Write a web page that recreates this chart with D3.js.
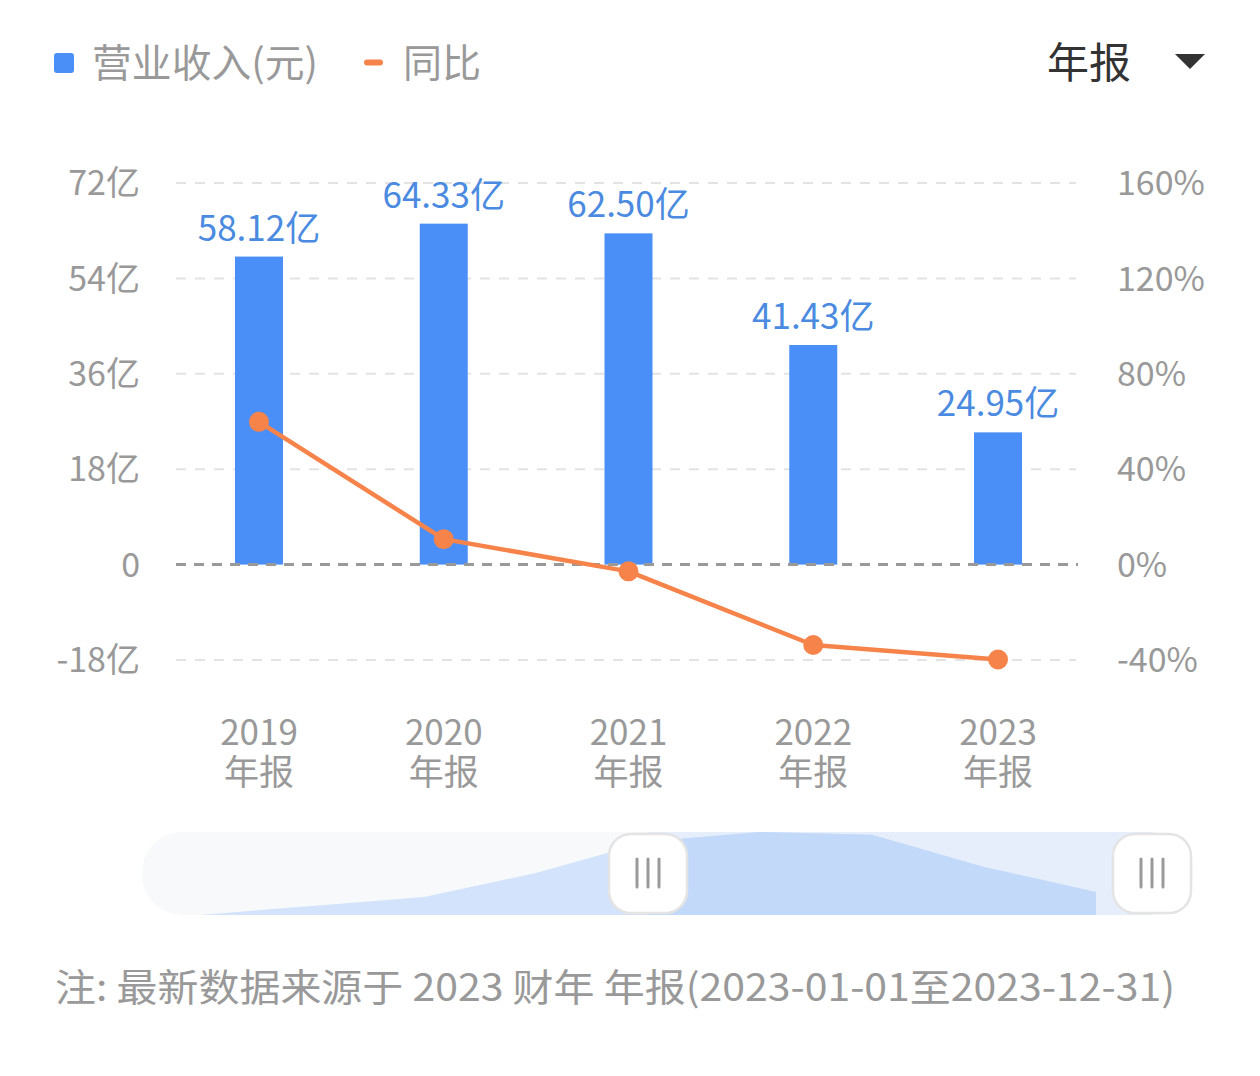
<!DOCTYPE html>
<html>
<head>
<meta charset="utf-8">
<script src="https://cdn.jsdelivr.net/npm/d3@7/dist/d3.min.js"></script>
<style>
  html, body { margin: 0; padding: 0; background: #fff; }
  svg { display: block; font-family: "Noto Sans CJK SC", "Noto Sans", sans-serif; }
</style>
</head>
<body>
<svg id="chart" width="1260" height="1076"></svg>
<script>
// ---- data ----
const categories = ["2019", "2020", "2021", "2022", "2023"];
const categorySuffix = "年报";
const revenue = [58.12, 64.33, 62.50, 41.43, 24.95];       // 亿元
const revenueLabels = ["58.12亿", "64.33亿", "62.50亿", "41.43亿", "24.95亿"];
const yoy = [59.87, 10.68, -2.84, -33.71, -39.78];          // %
const leftTicks = [-18, 0, 18, 36, 54, 72];
const leftTickLabels = ["-18亿", "0", "18亿", "36亿", "54亿", "72亿"];
const rightTicks = [-40, 0, 40, 80, 120, 160];
const rightTickLabels = ["-40%", "0%", "40%", "80%", "120%", "160%"];
const sliderYears = ["2015", "2016", "2017", "2018", "2019", "2020", "2021", "2022", "2023"];
const sliderValues = [9.9, 15.8, 21.7, 37.4, 58.12, 64.33, 62.50, 41.43, 24.95];
const legendNames = ["营业收入(元)", "同比"];
const periodLabel = "年报";
const footnote = "注: 最新数据来源于 2023 财年 年报(2023-01-01至2023-12-31)";

// ---- setup ----
const svg = d3.select("#chart");
const barColor = "#4a8ff7";
const labelColor = "#4a8ae0";
const lineColor = "#f6844a";
const axisText = "#999";

const x = d3.scaleBand().domain(categories).range([166.6, 1090.4]);
const cx = d => x(d) + x.bandwidth() / 2;
const yL = d3.scaleLinear().domain([-18, 72]).range([660, 183]);
const yR = d3.scaleLinear().domain([-40, 160]).range([660, 183]);
const gridX0 = 176, gridX1 = 1076;

// ---- legend ----
svg.append("rect").attr("x", 54).attr("y", 53).attr("width", 20).attr("height", 20)
  .attr("rx", 3).attr("fill", barColor);
svg.append("text").attr("x", 92).attr("y", 63).attr("dy", "0.36em")
  .attr("font-size", 39).attr("fill", axisText)
  .attr("textLength", 226).attr("lengthAdjust", "spacingAndGlyphs")
  .text(legendNames[0]);
svg.append("rect").attr("x", 364).attr("y", 59.5).attr("width", 19).attr("height", 6)
  .attr("rx", 3).attr("fill", lineColor);
svg.append("text").attr("x", 403).attr("y", 63).attr("dy", "0.36em")
  .attr("font-size", 39).attr("fill", axisText).text(legendNames[1]);

// period selector
svg.append("text").attr("x", 1047).attr("y", 63).attr("dy", "0.36em")
  .attr("font-size", 42).attr("fill", "#333").text(periodLabel);
svg.append("path").attr("d", "M1175,54 L1205,54 L1190,69 Z").attr("fill", "#333");

// ---- grid ----
const gridG = svg.append("g");
gridG.selectAll("line").data(leftTicks.filter(t => t !== 0)).join("line")
  .attr("x1", gridX0).attr("x2", gridX1)
  .attr("y1", d => yL(d)).attr("y2", d => yL(d))
  .attr("stroke", "#e3e3e3").attr("stroke-width", 2).attr("stroke-dasharray", "10,9");

// ---- axes labels ----
svg.append("g").selectAll("text").data(leftTicks).join("text")
  .attr("x", 140).attr("y", d => yL(d)).attr("dy", "0.36em")
  .attr("text-anchor", "end").attr("font-size", 34).attr("fill", axisText)
  .text((d, i) => leftTickLabels[i]);
svg.append("g").selectAll("text").data(rightTicks).join("text")
  .attr("x", 1117).attr("y", d => yR(d)).attr("dy", "0.36em")
  .attr("text-anchor", "start").attr("font-size", 34).attr("fill", axisText)
  .text((d, i) => rightTickLabels[i]);

const xl = svg.append("g").selectAll("text").data(categories).join("text")
  .attr("x", d => cx(d)).attr("text-anchor", "middle")
  .attr("font-size", 35).attr("fill", axisText);
xl.append("tspan").attr("x", d => cx(d)).attr("y", 745).text(d => d);
xl.append("tspan").attr("x", d => cx(d)).attr("y", 785).text(categorySuffix);

// ---- bars ----
const barW = 48;
svg.append("g").selectAll("rect").data(revenue).join("rect")
  .attr("x", (d, i) => cx(categories[i]) - barW / 2)
  .attr("y", d => yL(d))
  .attr("width", barW)
  .attr("height", d => yL(0) - yL(d))
  .attr("fill", barColor);

svg.append("g").selectAll("text").data(revenue).join("text")
  .attr("x", (d, i) => cx(categories[i]))
  .attr("y", d => yL(d) - 16)
  .attr("text-anchor", "middle").attr("font-size", 35).attr("fill", labelColor)
  .text((d, i) => revenueLabels[i]);

// zero line on top of bars
svg.append("line").attr("x1", gridX0).attr("x2", gridX1 + 2)
  .attr("y1", yL(0)).attr("y2", yL(0))
  .attr("stroke", "#999").attr("stroke-width", 3).attr("stroke-dasharray", "10,8");

// ---- yoy line ----
const line = d3.line().x((d, i) => cx(categories[i])).y(d => yR(d));
svg.append("path").datum(yoy).attr("d", line)
  .attr("fill", "none").attr("stroke", lineColor).attr("stroke-width", 4.5)
  .attr("stroke-linejoin", "round");
svg.append("g").selectAll("circle").data(yoy).join("circle")
  .attr("cx", (d, i) => cx(categories[i])).attr("cy", d => yR(d))
  .attr("r", 10).attr("fill", lineColor);

// ---- data zoom slider ----
const sTop = 832, sBot = 915, sL = 142, sR = 1193;
const sx = d3.scalePoint().domain(sliderYears).range([200, 1096]);
const sy = d3.scaleLinear().domain([9.87, 64.33]).range([sBot, sTop]);
const winL = 648, winR = 1152;

const defs = svg.append("defs");
defs.append("clipPath").attr("id", "sclip").append("rect")
  .attr("x", sL).attr("y", sTop).attr("width", sR - sL).attr("height", sBot - sTop).attr("rx", 40);
defs.append("clipPath").attr("id", "winclip").append("rect")
  .attr("x", winL).attr("y", sTop).attr("width", winR - winL).attr("height", sBot - sTop);

const sg = svg.append("g").attr("clip-path", "url(#sclip)");
sg.append("rect").attr("x", sL).attr("y", sTop).attr("width", sR - sL).attr("height", sBot - sTop)
  .attr("fill", "#f8f9fa");
sg.append("rect").attr("x", winL).attr("y", sTop).attr("width", winR - winL).attr("height", sBot - sTop)
  .attr("fill", "#e6eefc");
const area = d3.area().x(d => sx(d.k)).y0(sBot).y1(d => sy(d.v));
const sdata = sliderYears.map((k, i) => ({ k, v: sliderValues[i] }));
sg.append("path").datum(sdata).attr("d", area).attr("fill", "#d3e3fb");
sg.append("g").attr("clip-path", "url(#winclip)")
  .append("path").datum(sdata).attr("d", area).attr("fill", "#c2d9fa");

function handle(cxh) {
  const g = svg.append("g");
  g.append("rect").attr("x", cxh - 39).attr("y", 834).attr("width", 78).attr("height", 79)
    .attr("rx", 22).attr("fill", "#fff").attr("stroke", "#e4e4e4").attr("stroke-width", 2.5);
  [-11, 0, 11].forEach(o => {
    g.append("line").attr("x1", cxh + o).attr("x2", cxh + o).attr("y1", 859).attr("y2", 887)
      .attr("stroke", "#9a9a9a").attr("stroke-width", 3).attr("stroke-linecap", "round");
  });
}
handle(winL);
handle(winR);

// ---- footnote ----
svg.append("text").attr("x", 55).attr("y", 1001)
  .attr("font-size", 38).attr("fill", axisText)
  .attr("textLength", 1120).attr("lengthAdjust", "spacingAndGlyphs")
  .text(footnote);
</script>
</body>
</html>
